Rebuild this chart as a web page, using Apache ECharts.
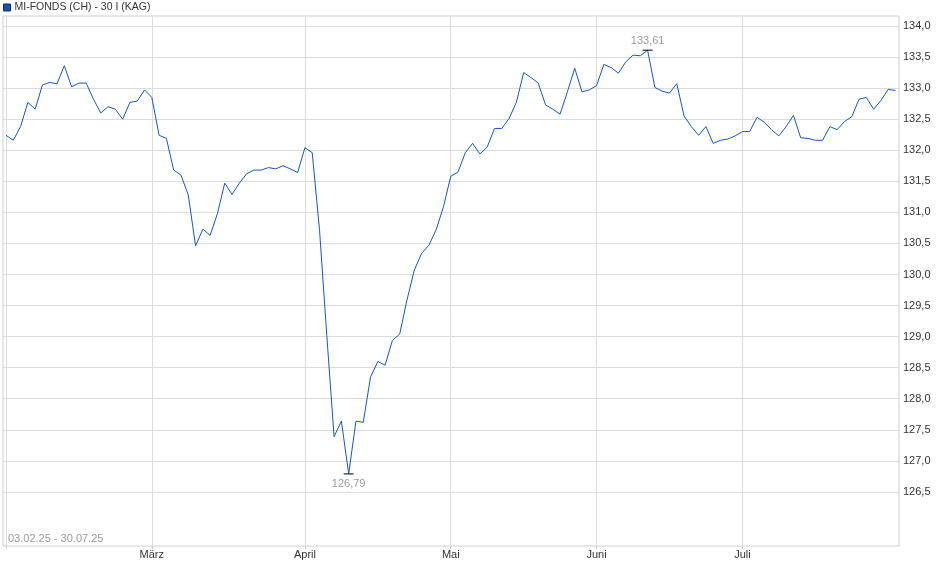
<!DOCTYPE html>
<html>
<head>
<meta charset="utf-8">
<script src="https://cdn.jsdelivr.net/npm/echarts@6/dist/echarts.min.js"></script>
<style>
html,body{margin:0;padding:0;background:#fff;}
#chart{width:940px;height:579px;}
</style>
</head>
<body>
<div id="chart"></div>
<script>
var seriesName = 'MI-FONDS (CH) - 30 I (KAG)';
var dateRange = '03.02.25 - 30.07.25';
var monthLabels = ['Feb', 'März', 'April', 'Mai', 'Juni', 'Juli'];
var monthStartIdx = [0, 20, 41, 61, 81, 101];
var yTicks = [126.5, 127, 127.5, 128, 128.5, 129, 129.5, 130, 130.5, 131, 131.5, 132, 132.5, 133, 133.5, 134];
var values = [
  132.24, 132.16, 132.38, 132.77, 132.66, 133.05, 133.09, 133.07, 133.36, 133.02,
  133.08, 133.08, 132.82, 132.60, 132.70, 132.66, 132.50, 132.77, 132.79, 132.97,
  132.85, 132.24, 132.19, 131.68, 131.60, 131.28, 130.46, 130.73, 130.63, 130.98,
  131.47, 131.29, 131.47, 131.62, 131.68, 131.68, 131.72, 131.70, 131.75, 131.70,
  131.64, 132.04, 131.96, 130.72, 129.02, 127.39, 127.64, 126.79, 127.64, 127.62,
  128.35, 128.60, 128.54, 128.94, 129.04, 129.59, 130.07, 130.34, 130.47, 130.72,
  131.09, 131.58, 131.65, 131.96, 132.11, 131.94, 132.05, 132.35, 132.35, 132.51,
  132.77, 133.25, 133.17, 133.08, 132.73, 132.66, 132.58, 132.94, 133.32, 132.94,
  132.97, 133.04, 133.38, 133.33, 133.24, 133.42, 133.53, 133.52, 133.61, 133.01,
  132.95, 132.92, 133.07, 132.55, 132.38, 132.24, 132.38, 132.11, 132.16, 132.18,
  132.23, 132.30, 132.30, 132.53, 132.45, 132.33, 132.23, 132.38, 132.56, 132.20,
  132.19, 132.16, 132.16, 132.38, 132.33, 132.46, 132.54, 132.82, 132.85, 132.66,
  132.80, 132.98, 132.96
];

var FONT = '"Liberation Sans", Arial, sans-serif';
var data = values.map(function (v, i) { return [i, v]; });
var fmt = function (v, d) { return Number(v).toFixed(d).replace('.', ','); };

var chart = echarts.init(document.getElementById('chart'), null, {renderer: 'canvas'});
chart.setOption({
  animation: false,
  backgroundColor: '#fff',
  textStyle: {fontFamily: FONT},
  legend: {
    left: 3, top: 2, padding: 0,
    icon: 'rect', itemWidth: 7, itemHeight: 7, itemGap: 5,
    textStyle: {fontSize: 10.5, color: '#333', fontFamily: FONT, padding: [0, 0, 0, -1]},
    data: [{name: seriesName, itemStyle: {color: '#1a4fb0', borderColor: '#0d2d6e', borderWidth: 1}}]
  },
  grid: {
    left: 3, right: 41, top: 16, bottom: 33,
    show: true, borderColor: '#d0d0d0', borderWidth: 1
  },
  xAxis: {
    type: 'value',
    min: -0.41, max: 122.48,
    axisLine: {show: false},
    axisTick: {show: true, length: 3, customValues: monthStartIdx, lineStyle: {color: '#ccc'}},
    splitLine: {show: true, lineStyle: {color: '#dcdcdc', width: 1}},
    axisLabel: {
      customValues: monthStartIdx.slice(1),
      fontSize: 11, color: '#333', margin: 3, fontFamily: FONT,
      formatter: function (v) {
        var k = monthStartIdx.indexOf(Math.round(v));
        return k > 0 ? monthLabels[k] : '';
      }
    }
  },
  yAxis: {
    type: 'value',
    position: 'right',
    min: 125.63, max: 134.16,
    axisLine: {show: false},
    axisTick: {show: false, customValues: yTicks},
    splitLine: {show: true, lineStyle: {color: '#dcdcdc', width: 1}},
    axisLabel: {
      customValues: yTicks,
      fontSize: 11, color: '#333', margin: 4, fontFamily: FONT,
      formatter: function (v) { return fmt(v, 1); }
    }
  },
  graphic: [{
    type: 'text', left: 8, top: 533,
    style: {text: dateRange, fontSize: 11, fill: '#9a9a9a', fontFamily: FONT}
  }],
  series: [{
    name: seriesName,
    type: 'line',
    data: data,
    showSymbol: false,
    symbol: 'none',
    color: '#1a56c0',
    lineStyle: {width: 1, color: '#1a56c0'},
    markPoint: {
      symbol: 'rect',
      symbolSize: [10, 1],
      itemStyle: {color: '#000'},
      data: [
        {type: 'max', label: {position: 'top', distance: 3}},
        {type: 'min', label: {position: 'bottom', distance: 4}}
      ],
      label: {
        show: true, fontSize: 11, color: '#999', fontFamily: FONT,
        formatter: function (p) { return fmt(p.value, 2); }
      }
    }
  }]
});
</script>
</body>
</html>
